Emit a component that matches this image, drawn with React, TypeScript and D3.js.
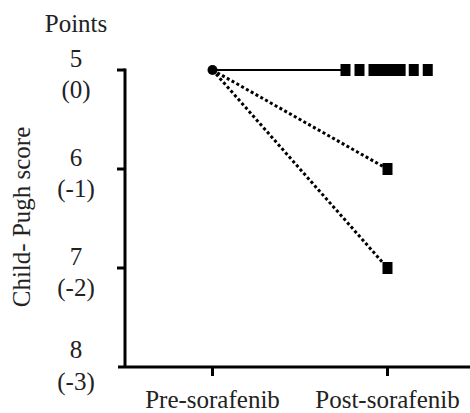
import { useRef, useEffect } from 'react';
import * as d3 from 'd3';

// categories on x
const phases = ['Pre-sorafenib', 'Post-sorafenib'];
// y ticks: Child-Pugh score and change in points
const scoreTicks = [5, 6, 7, 8];
const pointTicks = ['(0)', '(-1)', '(-2)', '(-3)'];
// per patient
const preScores = [5, 5, 5, 5, 5, 5, 5, 5, 5, 5];
const postScores = [5, 5, 5, 5, 5, 5, 5, 5, 6, 7];
// horizontal spread of post markers, as a share of category step
const postJitter = [-0.24, -0.16, -0.08, -0.03, 0.02, 0.075, 0.15, 0.23, 0, 0];

const W = 470;
const H = 413;
const FONT = '"Liberation Serif", "Times New Roman", serif';

const App = () => {
  const svgRef = useRef<SVGSVGElement>(null);

  useEffect(() => {
    const svg = d3.select(svgRef.current);
    svg.selectAll('*').remove();

    const x0 = 125;
    const yTop = 70;
    const yBot = 367;

    const x = d3.scalePoint<string>().domain(phases).range([x0, 475]).padding(0.5);
    const y = d3.scaleLinear().domain([5, 8]).range([yTop, yBot]);
    const jit = d3.scaleLinear().domain([0, 1]).range([0, x.step()]);

    const g = svg.append('g');

    // axes
    g.append('line')
      .attr('x1', x0).attr('x2', x0)
      .attr('y1', yTop - 1.5).attr('y2', yBot)
      .attr('stroke', '#000').attr('stroke-width', 3);
    g.append('line')
      .attr('x1', x0 - 7).attr('x2', W)
      .attr('y1', yBot).attr('y2', yBot)
      .attr('stroke', '#000').attr('stroke-width', 3);

    // y ticks + labels
    scoreTicks.forEach((s, i) => {
      const yy = y(s);
      if (i < scoreTicks.length - 1) {
        g.append('line')
          .attr('x1', x0 - 8).attr('x2', x0)
          .attr('y1', yy).attr('y2', yy)
          .attr('stroke', '#000').attr('stroke-width', 3);
      }
      const last = i === scoreTicks.length - 1;
      g.append('text')
        .attr('x', 76).attr('y', yy - (last ? 9 : 3))
        .attr('text-anchor', 'middle')
        .text(s);
      g.append('text')
        .attr('x', 76).attr('y', yy + (last ? 23 : 28))
        .attr('text-anchor', 'middle')
        .text(pointTicks[i]);
    });

    // x ticks + labels
    phases.forEach(p => {
      g.append('line')
        .attr('x1', x(p)!).attr('x2', x(p)!)
        .attr('y1', yBot).attr('y2', yBot + 9)
        .attr('stroke', '#000').attr('stroke-width', 3);
      g.append('text')
        .attr('x', x(p)!).attr('y', 408)
        .attr('text-anchor', 'middle')
        .text(p);
    });

    g.append('text')
      .attr('x', 76).attr('y', 32)
      .attr('text-anchor', 'middle')
      .text('Points');

    g.append('text')
      .attr('transform', 'translate(30,217) rotate(-90)')
      .attr('text-anchor', 'middle')
      .text('Child- Pugh score');

    const xPre = x(phases[0])!;
    const xPost = x(phases[1])!;

    // connecting lines
    const unchanged = postScores
      .map((s, i) => ({ s, i }))
      .filter(d => d.s === preScores[d.i]);
    const minJ = d3.min(unchanged, d => postJitter[d.i]) ?? 0;
    g.append('line')
      .attr('x1', xPre).attr('y1', y(5))
      .attr('x2', xPost + jit(minJ)).attr('y2', y(5))
      .attr('stroke', '#000').attr('stroke-width', 2);

    postScores.forEach((s, i) => {
      if (s === preScores[i]) return;
      g.append('line')
        .attr('x1', xPre).attr('y1', y(preScores[i]))
        .attr('x2', xPost + jit(postJitter[i])).attr('y2', y(s))
        .attr('stroke', '#000').attr('stroke-width', 3)
        .attr('stroke-dasharray', '3,2.5');
    });

    // pre marker
    g.append('circle')
      .attr('cx', xPre).attr('cy', y(preScores[0]))
      .attr('r', 5).attr('fill', '#000');

    // post markers
    g.selectAll('rect.post')
      .data(postScores)
      .enter()
      .append('rect')
      .attr('class', 'post')
      .attr('x', (d, i) => xPost + jit(postJitter[i]) - 5)
      .attr('y', d => y(d) - 6)
      .attr('width', 10)
      .attr('height', 12)
      .attr('fill', '#000');
  }, []);

  return (
    <svg
      ref={svgRef}
      width={W}
      height={H}
      style={{ position: 'absolute', left: 0, top: 0, fontFamily: FONT, fontSize: 25, fill: '#222' }}
    />
  );
};

export default App;
